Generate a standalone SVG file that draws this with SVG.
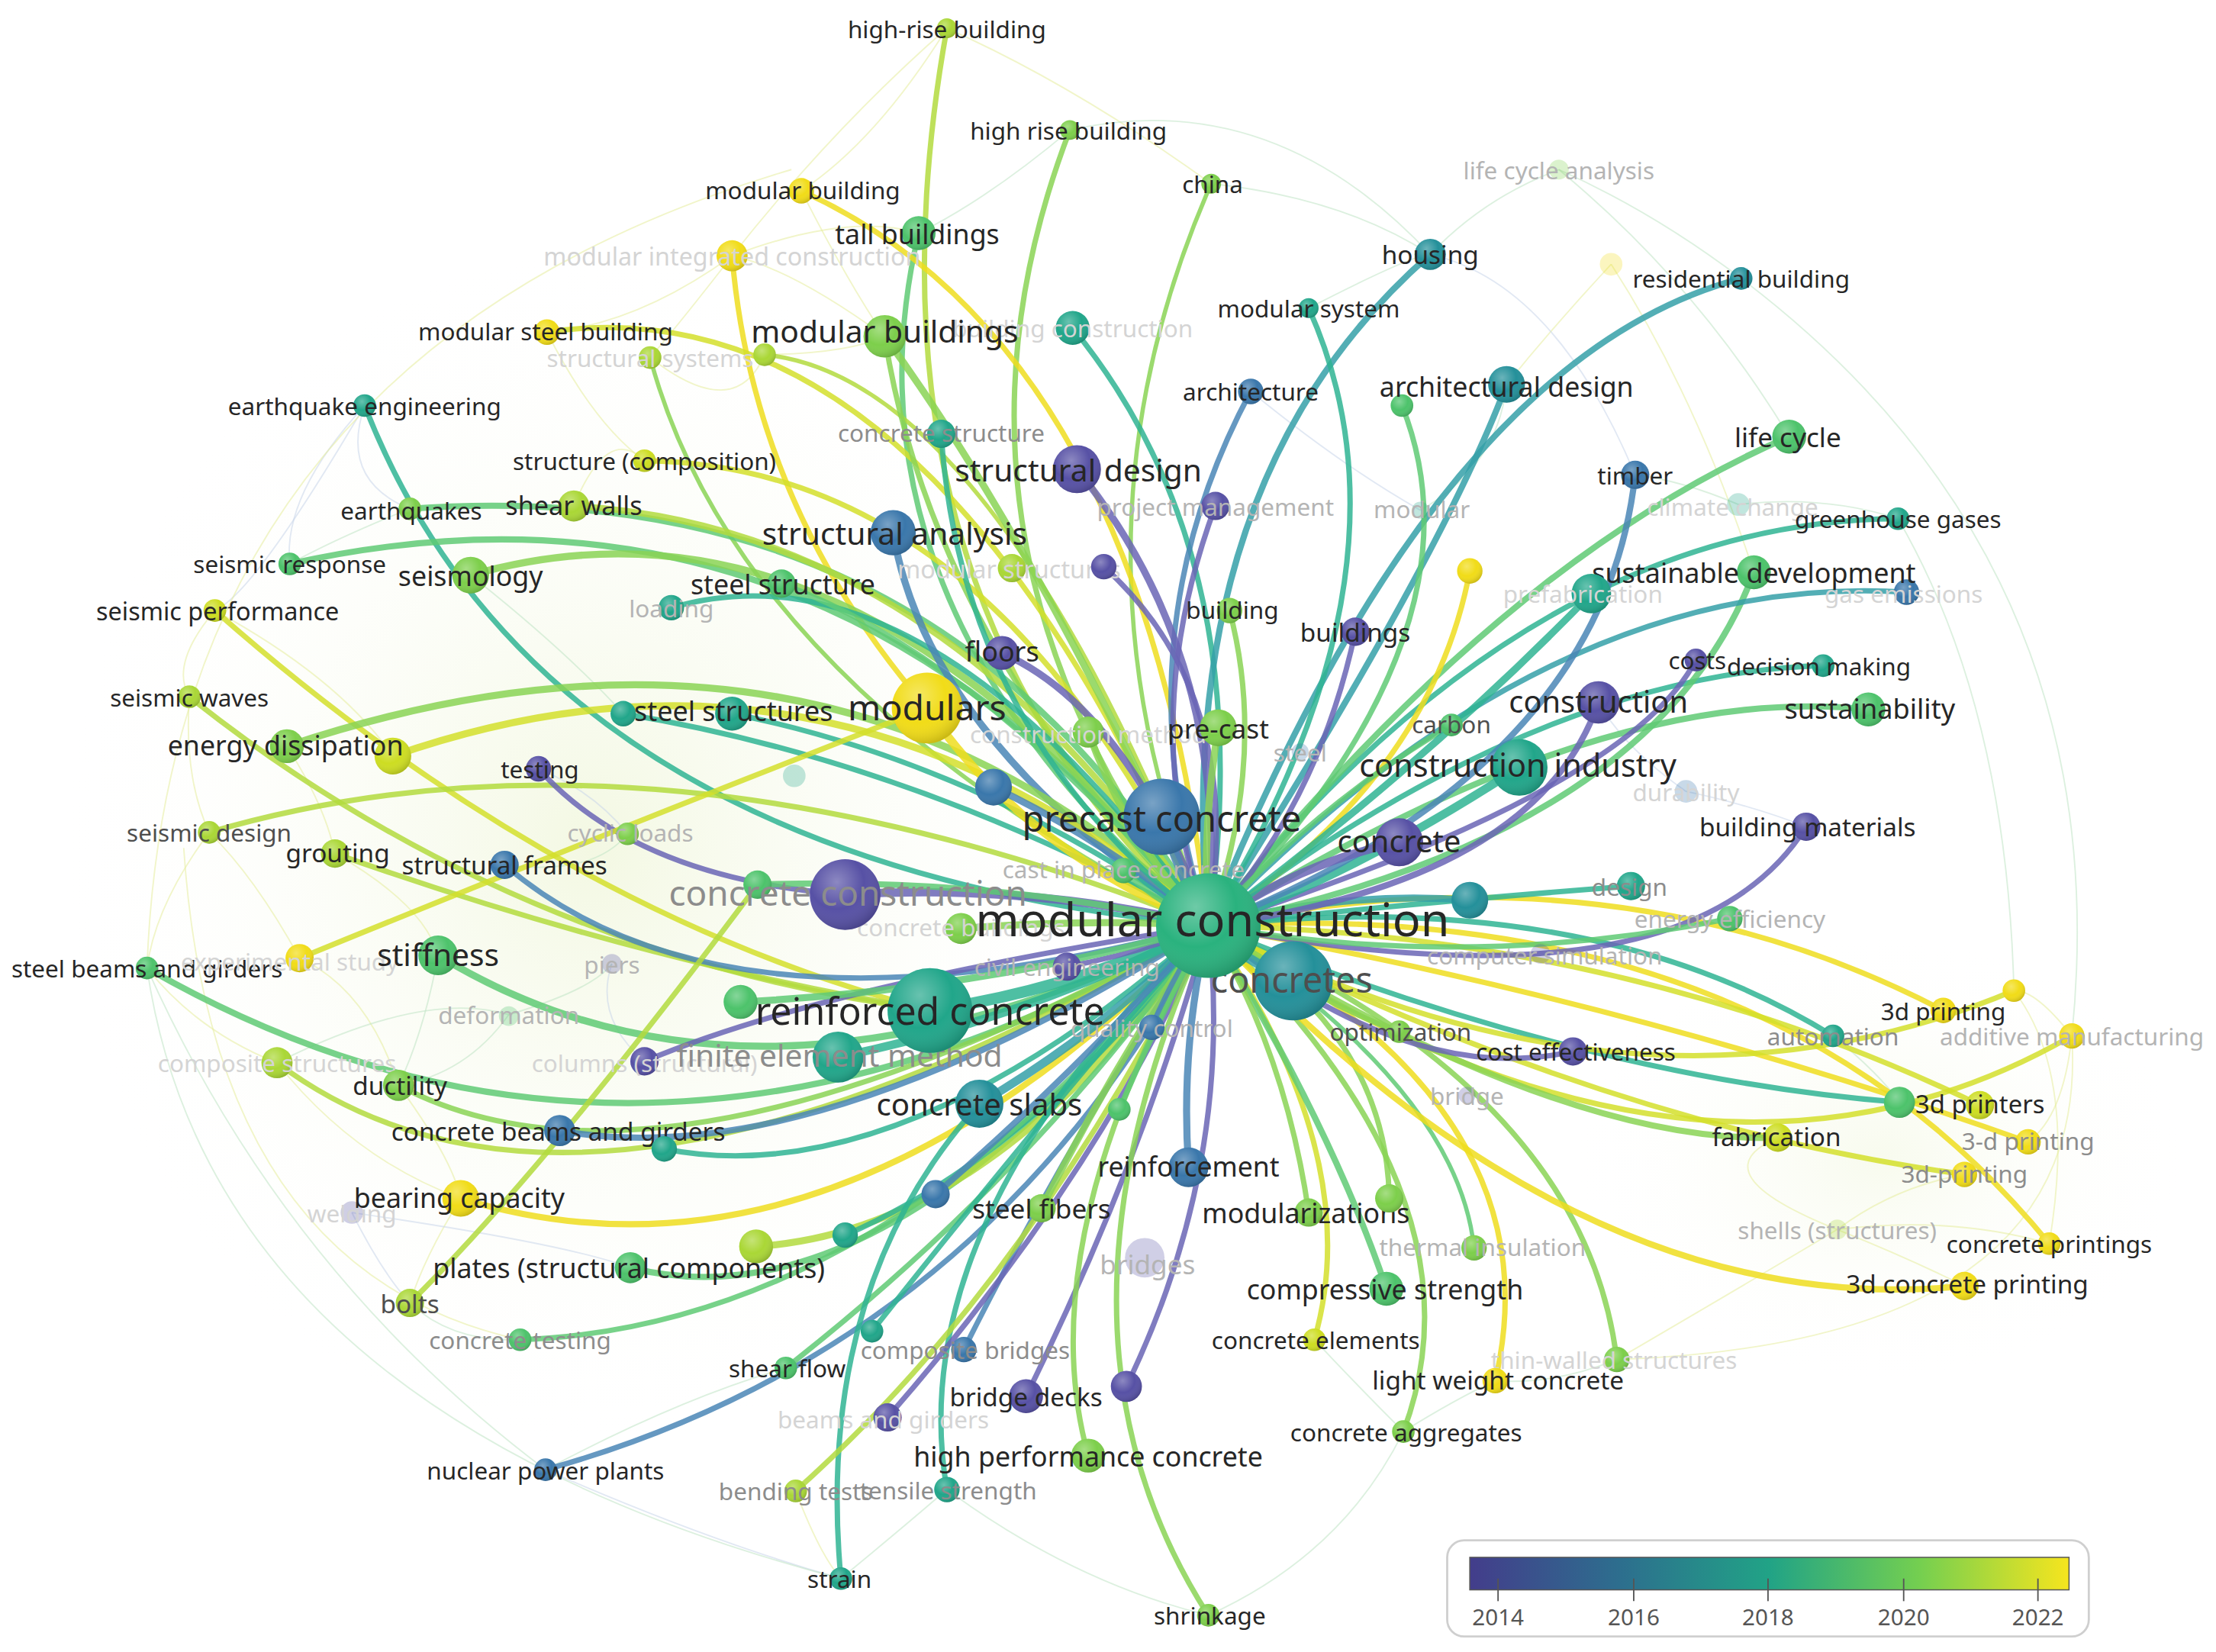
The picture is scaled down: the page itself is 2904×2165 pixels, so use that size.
<svg xmlns="http://www.w3.org/2000/svg" width="2904" height="2165" viewBox="0 0 2904 2165">
<defs>
<radialGradient id="sh" cx="0.38" cy="0.32" r="0.7">
<stop offset="0" stop-color="#ffffff" stop-opacity="0.32"/>
<stop offset="0.55" stop-color="#ffffff" stop-opacity="0"/>
<stop offset="1" stop-color="#000000" stop-opacity="0.16"/>
</radialGradient>
<linearGradient id="vir" x1="0" y1="0" x2="1" y2="0">
<stop offset="0" stop-color="#433d8b"/>
<stop offset="0.25" stop-color="#2d6e8e"/>
<stop offset="0.5" stop-color="#21a386"/>
<stop offset="0.75" stop-color="#74cf50"/>
<stop offset="1" stop-color="#f6e51e"/>
</linearGradient>
<radialGradient id="haze" cx="0.5" cy="0.5" r="0.5">
<stop offset="0" stop-color="#eef5d6" stop-opacity="0.7"/>
<stop offset="1" stop-color="#ffffff" stop-opacity="0"/>
</radialGradient>
<style>
.e{fill:none;stroke-linecap:round;stroke-opacity:0.85}
.fe{fill:none;stroke-width:1;stroke-opacity:0.55}
.fY{stroke:#e6ec9c}.fG{stroke:#bfe4c4}.fB{stroke:#c9d5ea}
.sP{stroke:#6a65b5}.sB{stroke:#4a86b6}.sTB{stroke:#35a0a8}.sT{stroke:#2fb493}.sG{stroke:#5fca74}.sLG{stroke:#8ad455}.sL{stroke:#b3db3e}.sYL{stroke:#d3df2b}.sY{stroke:#eedd1f}
.w2{stroke-width:3}.w3{stroke-width:3.8}.w35{stroke-width:4.4}.w4{stroke-width:5}.w5{stroke-width:6}.w6{stroke-width:7}.w7{stroke-width:8}
.cP{fill:#5751a5}.cB{fill:#3a77ab}.cTB{fill:#24909a}.cT{fill:#21a68a}.cG{fill:#4dc36b}.cLG{fill:#7dcf4b}.cL{fill:#aad736}.cYL{fill:#cddd22}.cY{fill:#f1dc18}.cH{fill:#2ab27e}
.fade{opacity:0.28}
.t{font-family:"Noto Sans","Open Sans","Liberation Sans",sans-serif;text-anchor:middle;dominant-baseline:central}
.k{fill:#262626}.d{fill:#4e4e4e}.m{fill:#8c8c8c}.f{fill:#b4b4b4}.v{fill:#d4d4d4}
</style>
</defs>
<rect x="0" y="0" width="2904" height="2165" fill="#ffffff"/>
<g transform="scale(1.852041)">
<ellipse cx="420" cy="600" rx="380" ry="430" fill="url(#haze)"/>
<ellipse cx="1330" cy="820" rx="220" ry="160" fill="url(#haze)" opacity="0.6"/>

<g id="connectors">
<g id="faint-links">
<path class="fe fY" d="M518 181 Q450 230 387 235"/>
<path class="fe fY" d="M518 181 Q600 150 650 165"/>
<path class="fe fY" d="M518 181 Q590 90 670 20"/>
<path class="fe fY" d="M518 181 Q480 230 460 253"/>
<path class="fe fY" d="M387 235 Q420 300 456 326"/>
<path class="fe fY" d="M460 253 Q520 300 541 251"/>
<path class="fe fY" d="M567 135 Q620 100 670 20"/>
<path class="fe fY" d="M567 135 Q600 200 626 238"/>
<path class="fe fY" d="M670 20 Q760 60 857 130"/>
<path class="fe fG" d="M757 92 Q700 140 650 165"/>
<path class="fe fB" d="M258 287 Q240 340 290 360"/>
<path class="fe fB" d="M258 287 Q200 350 205 399"/>
<path class="fe fB" d="M258 287 Q180 420 152 432"/>
<path class="fe fG" d="M290 360 Q240 380 205 399"/>
<path class="fe fY" d="M152 432 Q120 470 134 493"/>
<path class="fe fY" d="M134 493 Q130 550 148 589"/>
<path class="fe fY" d="M148 589 Q110 640 104 685"/>
<path class="fe fY" d="M104 685 Q140 730 196 752"/>
<path class="fe fY" d="M196 752 Q250 820 326 848"/>
<path class="fe fY" d="M326 848 Q300 890 290 922"/>
<path class="fe fG" d="M290 922 Q320 950 368 948"/>
<path class="fe fB" d="M249 858 Q270 900 290 922"/>
<path class="fe fY" d="M212 678 Q180 620 148 589"/>
<path class="fe fY" d="M212 678 Q260 700 282 768"/>
<path class="fe fY" d="M237 604 Q300 640 310 676"/>
<path class="fe fG" d="M310 676 Q300 730 282 768"/>
<path class="fe fY" d="M282 768 Q320 820 326 848"/>
<path class="fe fY" d="M152 432 Q240 480 278 535"/>
<path class="fe fY" d="M203 528 Q230 570 237 604"/>
<path class="fe fG" d="M333 407 Q400 460 441 505"/>
<path class="fe fY" d="M406 358 Q430 300 456 326"/>
<path class="fe fG" d="M104 685 Q200 900 386 1040"/>
<path class="fe fY" d="M130 600 Q150 900 368 948"/>
<path class="fe fB" d="M386 1040 Q500 1090 595 1117"/>
<path class="fe fG" d="M556 968 Q480 990 386 1040"/>
<path class="fe fY" d="M563 1055 Q580 1100 595 1117"/>
<path class="fe fG" d="M595 1117 Q640 1080 670 1054"/>
<path class="fe fG" d="M670 1054 Q760 1120 855 1143"/>
<path class="fe fG" d="M1103 120 Q1050 140 1012 180"/>
<path class="fe fG" d="M1103 120 Q1170 150 1232 197"/>
<path class="fe fG" d="M1103 120 Q1200 200 1266 309"/>
<path class="fe fY" d="M1140 187 Q1200 280 1241 405"/>
<path class="fe fY" d="M1140 187 Q1100 230 1066 272"/>
<path class="fe fG" d="M1230 357 Q1290 350 1343 367"/>
<path class="fe fG" d="M1230 357 Q1190 340 1157 336"/>
<path class="fe fB" d="M1012 180 Q1100 200 1157 336"/>
<path class="fe fG" d="M926 218 Q1000 180 1012 180"/>
<path class="fe fY" d="M1466 733 Q1440 700 1425 701"/>
<path class="fe fY" d="M1466 733 Q1460 790 1435 808"/>
<path class="fe fY" d="M1300 870 Q1350 890 1390 910"/>
<path class="fe fY" d="M1300 870 Q1380 860 1450 880"/>
<path class="fe fY" d="M1300 870 Q1340 840 1390 831"/>
<path class="fe fG" d="M1144 962 Q1100 980 1058 977"/>
<path class="fe fY" d="M1144 962 Q1250 900 1300 870"/>
<path class="fe fG" d="M1297 733 Q1330 760 1344 780"/>
<path class="fe fY" d="M1425 701 Q1470 760 1450 880"/>
<path class="fe fG" d="M855 1143 Q950 1100 993 1013"/>
<path class="fe fG" d="M993 1013 Q1030 990 1058 977"/>
<path class="fe fG" d="M930 948 Q960 980 993 1013"/>
<path class="fe fB" d="M1193 560 Q1240 570 1278 585"/>
<path class="fe fB" d="M1193 560 Q1150 530 1131 497"/>
<path class="fe fG" d="M1005 361 Q1060 330 1066 272"/>
<path class="fe fB" d="M1005 361 Q950 330 885 277"/>
<path class="fe fY" d="M560 120 Q120 250 104 685"/>
<path class="fe fG" d="M104 685 Q150 1000 595 1117"/>
<path class="fe fG" d="M1232 197 Q1500 400 1466 733"/>
<path class="fe fG" d="M1343 367 Q1420 500 1425 701"/>
<path class="fe fY" d="M1466 733 Q1480 950 1144 962"/>
<path class="fe fG" d="M757 92 Q900 60 1012 180"/>
<path class="fe fG" d="M857 130 Q950 140 1012 180"/>
<path class="fe fY" d="M626 238 Q560 190 518 181"/>
<path class="fe fY" d="M541 251 Q600 250 626 238"/>
<path class="fe fB" d="M433 682 Q420 720 456 751"/>
<path class="fe fG" d="M360 718 Q420 700 433 682"/>
<path class="fe fG" d="M360 718 Q330 760 282 768"/>
<path class="fe fG" d="M444 590 Q420 620 357 612"/>
<path class="fe fB" d="M381 544 Q420 560 444 590"/>
<path class="fe fB" d="M249 858 Q400 880 446 897"/>
<path class="fe fG" d="M196 752 Q300 700 360 718"/>
<path class="fe fY" d="M1300 870 Q1200 830 1258 805"/>
</g>
<g id="links">
<path class="e sL w3" d="M670 20 Q597.5 422.5 855 655"/>
<path class="e sLG w3" d="M757 92 Q644 386.5 855 655"/>
<path class="e sLG w2" d="M857 130 Q744 387.5 855 655"/>
<path class="e sG w3" d="M650 165 Q587.5 430 855 655"/>
<path class="e sY w3" d="M567 135 Q809 245 855 655"/>
<path class="e sY w3" d="M518 181 Q533 359 656 501"/>
<path class="e sYL w3" d="M387 235 Q659 195 855 655"/>
<path class="e sLG w2" d="M460 253 Q522.5 486 855 655"/>
<path class="e sL w2" d="M541 251 Q702 267 855 655"/>
<path class="e sLG w4" d="M626 238 Q739.5 393.5 855 655"/>
<path class="e sLG w3" d="M626 238 Q659.5 453.5 855 655"/>
<path class="e sT w3" d="M759 232 Q893 396.5 855 655"/>
<path class="e sT w3" d="M258 287 Q383.5 609 855 655"/>
<path class="e sYL w3" d="M456 326 Q704.5 329.5 855 655"/>
<path class="e sG w35" d="M290 360 Q667.5 332.5 855 655"/>
<path class="e sL w35" d="M406 358 Q669.5 373.5 855 655"/>
<path class="e sG w35" d="M205 399 Q590 313 855 655"/>
<path class="e sLG w4" d="M333 407 Q606 329 855 655"/>
<path class="e sYL w3" d="M152 432 Q395 646.5 658 715"/>
<path class="e sT w3" d="M475 430 Q655 377.5 855 655"/>
<path class="e sG w3" d="M553 413 Q696 466 855 655"/>
<path class="e sB w4" d="M632 377 Q656.5 524 855 655"/>
<path class="e sL w3" d="M134 493 Q364 676 658 715"/>
<path class="e sLG w4" d="M203 528 Q591 398.5 855 655"/>
<path class="e sYL w4" d="M278 535 Q593.5 425 855 655"/>
<path class="e sL w3" d="M148 589 Q458.5 498 855 655"/>
<path class="e sT w3" d="M441 505 Q652 540 855 655"/>
<path class="e sT w3" d="M518 505 Q693.5 540 855 655"/>
<path class="e sP w3" d="M381 544 Q450.5 621.5 598 633"/>
<path class="e sL w3" d="M237 604 Q452.5 680.5 658 715"/>
<path class="e sYL w3" d="M212 678 Q426 590.5 656 501"/>
<path class="e sB w3" d="M357 612 Q514 746.5 855 655"/>
<path class="e sG w4" d="M310 676 Q537.5 814.5 855 655"/>
<path class="e sG w35" d="M104 685 Q460.5 890 855 655"/>
<path class="e sL w3" d="M196 752 Q414.5 916.5 855 655"/>
<path class="e sLG w3" d="M282 768 Q471.5 868.5 855 655"/>
<path class="e sB w35" d="M396 800 Q574.5 832.5 855 655"/>
<path class="e sT w3" d="M470 813 Q637.5 846 855 655"/>
<path class="e sY w35" d="M326 848 Q589.5 928.5 855 655"/>
<path class="e sL w3" d="M290 922 Q387 826 536 626"/>
<path class="e sG w35" d="M446 897 Q629.5 944 855 655"/>
<path class="e sL w4" d="M535 882 Q705 871.5 855 655"/>
<path class="e sT w3" d="M598 874 Q733.5 815.5 855 655"/>
<path class="e sG w3" d="M368 948 Q628.5 938.5 855 655"/>
<path class="e sB w3" d="M386 1040 Q699.5 952.5 855 655"/>
<path class="e sG w3" d="M556 968 Q734.5 828.5 855 655"/>
<path class="e sB w3" d="M682 955 Q751.5 815 855 655"/>
<path class="e sT w3" d="M595 1117 Q576 911 693 781"/>
<path class="e sT w3" d="M617 942 Q744 781.5 855 655"/>
<path class="e sT w3" d="M670 1054 Q637.5 865.5 855 655"/>
<path class="e sL w3" d="M563 1055 Q731 905 855 655"/>
<path class="e sP w3" d="M628 1003 Q778.5 831 855 655"/>
<path class="e sP w3" d="M726 988 Q809.5 818.5 855 655"/>
<path class="e sP w3" d="M797 981 Q874 822 855 655"/>
<path class="e sLG w3" d="M770 1030 Q727.5 877.5 855 655"/>
<path class="e sLG w3" d="M855 1143 Q725 941 855 655"/>
<path class="e sYL w3" d="M930 948 Q967.5 818.5 855 655"/>
<path class="e sG w35" d="M981 912 Q942 796.5 855 655"/>
<path class="e sLG w3" d="M926 858 Q909.5 743.5 855 655"/>
<path class="e sLG w3" d="M983 848 Q981 728.5 855 655"/>
<path class="e sY w3" d="M1058 977 Q1103.5 784 855 655"/>
<path class="e sLG w3" d="M993 1013 Q1056 846 855 655"/>
<path class="e sLG w3" d="M1144 962 Q1120.5 771.5 855 655"/>
<path class="e sG w2" d="M1043 883 Q1031 771 855 655"/>
<path class="e sY w35" d="M1390 910 Q1117.5 937.5 855 655"/>
<path class="e sY w3" d="M1450 880 Q1247.5 632.5 855 655"/>
<path class="e sY w3" d="M1435 808 Q1155 708.5 855 655"/>
<path class="e sYL w3" d="M1390 831 Q1137.5 797 855 655"/>
<path class="e sT w3" d="M1344 780 Q1120.5 762.5 855 655"/>
<path class="e sYL w3" d="M1401 782 Q1152 661.5 855 655"/>
<path class="e sT w3" d="M1297 733 Q1124 626 855 655"/>
<path class="e sY w3" d="M1375 715 Q1145 595 855 655"/>
<path class="e sYL w3" d="M1425 701 Q1160 812 855 655"/>
<path class="e sYL w3" d="M1466 733 Q1199.5 886 855 655"/>
<path class="e sLG w35" d="M1258 805 Q1103.5 810 855 655"/>
<path class="e sP w3" d="M1113 744 Q996 770.5 855 655"/>
<path class="e sLG w3" d="M990 730 Q927.5 707.5 855 655"/>
<path class="e sP w3" d="M1278 585 Q1193.5 720 855 655"/>
<path class="e sT w3" d="M1154 627 Q995.5 639 855 655"/>
<path class="e sG w3" d="M1224 650 Q1040.5 687.5 855 655"/>
<path class="e sTB w4" d="M1040 637 Q950 630 855 655"/>
<path class="e sG w35" d="M1322 502 Q1131.5 481.5 855 655"/>
<path class="e sT w3" d="M1290 471 Q1087.5 477 855 655"/>
<path class="e sP w3" d="M1200 467 Q1152.5 559 855 655"/>
<path class="e sG w35" d="M1241 405 Q1172 590 855 655"/>
<path class="e sP w35" d="M1131 497 Q1087 624 855 655"/>
<path class="e sT w5" d="M1075 543 Q955 621 855 655"/>
<path class="e sTB w3" d="M1349 419 Q1098 403 855 655"/>
<path class="e sT w3" d="M1343 367 Q1081 369 855 655"/>
<path class="e sG w35" d="M1266 309 Q1059.5 398 855 655"/>
<path class="e sB w35" d="M1157 336 Q1134 544.5 855 655"/>
<path class="e sTB w35" d="M1232 197 Q1016.5 254 855 655"/>
<path class="e sTB w35" d="M1066 272 Q1019.5 396.5 855 655"/>
<path class="e sTB w35" d="M1012 180 Q826.5 342.5 855 655"/>
<path class="e sT w3" d="M926 218 Q1009.5 403.5 855 655"/>
<path class="e sB w3" d="M885 277 Q790 454 855 655"/>
<path class="e sG w3" d="M992 287 Q1056.5 449 855 655"/>
<path class="e sY w3" d="M1040 404 Q1012.5 550.5 855 655"/>
<path class="e sP w3" d="M959 447 Q933 569 855 655"/>
<path class="e sLG w3" d="M870 432 Q897.5 536.5 855 655"/>
<path class="e sP w3" d="M860 358 Q802.5 513.5 855 655"/>
<path class="e sP w3" d="M781 401 Q882 492 855 655"/>
<path class="e sP w4" d="M762 332 Q871.5 466.5 855 655"/>
<path class="e sP w4" d="M709 462 Q798 501.5 855 655"/>
<path class="e sY w5" d="M656 501 Q724.5 602 855 655"/>
<path class="e sB w4" d="M703 557 Q781 594 855 655"/>
<path class="e sT w3" d="M666 307 Q679.5 519 855 655"/>
<path class="e sP w3" d="M456 751 Q584.5 697 855 655"/>
<path class="e sB w6" d="M822 578 Q835 620 855 655"/>
<path class="e sP w5" d="M990 596 Q920 610 855 655"/>
<path class="e sLG w4" d="M862 515 Q850 590 855 655"/>
<path class="e sTB w6" d="M915 694 Q880 680 855 655"/>
<path class="e sT w7" d="M658 715 Q760 700 855 655"/>
<path class="e sP w5" d="M598 633 Q730 625 855 655"/>
<path class="e sT w5" d="M593 748 Q730 720 855 655"/>
<path class="e sTB w5" d="M693 781 Q780 730 855 655"/>
<path class="e sB w4" d="M841 826 Q835 740 855 655"/>
<path class="e sLG w4" d="M737 855 Q790 750 855 655"/>
<path class="e sG w3" d="M795 616 Q820 640 855 655"/>
<path class="e sP w3" d="M755 684 Q805 675 855 655"/>
<path class="e sB w3" d="M815 727 Q830 690 855 655"/>
<path class="e sG w3" d="M792 785 Q820 720 855 655"/>
<path class="e sLG w4" d="M680 657 Q770 650 855 655"/>
<path class="e sG w35" d="M536 626 Q700 620 855 655"/>
<path class="e sG w4" d="M524 709 Q700 700 855 655"/>
<path class="e sG w3" d="M1027 513 Q930 570 855 655"/>
<path class="e sLG w4" d="M770 518 Q800 600 855 655"/>
<path class="e sB w35" d="M662 845 Q760 760 855 655"/>
<path class="e sT w4" d="M1126 420 Q1010 540 855 655"/>
</g>
</g>

<g id="nodes">
<g id="n-life-cycle-analysis"><circle cx="1103" cy="120" r="7" class="cLG fade"/><text class="t f" x="1103" y="120" font-size="17">life cycle analysis</text></g>
<g id="n-unlabeled-yellow-1140"><circle cx="1140" cy="187" r="8" class="cY fade"/></g>
<g id="n-modular"><circle cx="1005" cy="361" r="6" class="cT fade"/><text class="t f" x="1006" y="360" font-size="17">modular</text></g>
<g id="n-climate-change"><circle cx="1230" cy="357" r="8" class="cT fade"/><text class="t v" x="1226" y="358" font-size="17">climate change</text></g>
<g id="n-steel"><circle cx="920" cy="532" r="6" class="cB fade"/><text class="t f" x="920" y="532" font-size="17">steel</text></g>
<g id="n-durability"><circle cx="1193" cy="560" r="8" class="cB fade"/><text class="t v" x="1193" y="560" font-size="17">durability</text></g>
<g id="n-computer-simulation"><circle cx="1090" cy="675" r="7" class="cP fade"/><text class="t f" x="1093" y="676" font-size="17">computer simulation</text></g>
<g id="n-bridge"><circle cx="1038" cy="775" r="6" class="cP fade"/><text class="t f" x="1038" y="775" font-size="17">bridge</text></g>
<g id="n-shells-structures"><circle cx="1300" cy="870" r="7" class="cL fade"/><text class="t f" x="1300" y="870" font-size="17">shells (structures)</text></g>
<g id="n-piers"><circle cx="433" cy="682" r="7" class="cP fade"/><text class="t f" x="433" y="682" font-size="17">piers</text></g>
<g id="n-deformation"><circle cx="360" cy="719" r="7" class="cG fade"/><text class="t f" x="360" y="718" font-size="17">deformation</text></g>
<g id="n-welding"><circle cx="249" cy="858" r="8" class="cP fade"/><text class="t v" x="249" y="858" font-size="17">welding</text></g>
<g id="n-bridges"><circle cx="810" cy="890" r="14" class="cP fade"/><text class="t f" x="812" y="894" font-size="19">bridges</text></g>
<g id="n-unlabeled-faint-562"><circle cx="562" cy="549" r="8" class="cT fade"/></g>

<g id="n-unlabeled-ylime-278"><circle cx="278" cy="535" r="13" class="cYL"/><circle cx="278" cy="535" r="13" fill="url(#sh)"/></g>
<g id="n-high-rise-building"><circle cx="670" cy="20" r="7" class="cL"/><circle cx="670" cy="20" r="7" fill="url(#sh)"/><text class="t k" x="670" y="20" font-size="17">high-rise building</text></g>
<g id="n-high-rise-building-2"><circle cx="757" cy="92" r="7" class="cLG"/><circle cx="757" cy="92" r="7" fill="url(#sh)"/><text class="t k" x="756" y="92" font-size="17">high rise building</text></g>
<g id="n-china"><circle cx="857" cy="130" r="7" class="cLG"/><circle cx="857" cy="130" r="7" fill="url(#sh)"/><text class="t k" x="858" y="130" font-size="17">china</text></g>
<g id="n-modular-building"><circle cx="567" cy="135" r="9" class="cY"/><circle cx="567" cy="135" r="9" fill="url(#sh)"/><text class="t k" x="568" y="134" font-size="17">modular building</text></g>
<g id="n-modular-integrated-construction"><circle cx="518" cy="181" r="11" class="cY"/><circle cx="518" cy="181" r="11" fill="url(#sh)"/><text class="t v" x="518" y="181" font-size="17.4">modular integrated construction</text></g>
<g id="n-residential-building"><circle cx="1232" cy="197" r="8" class="cTB"/><circle cx="1232" cy="197" r="8" fill="url(#sh)"/><text class="t k" x="1232" y="197" font-size="17">residential building</text></g>
<g id="n-modular-system"><circle cx="926" cy="218" r="7" class="cT"/><circle cx="926" cy="218" r="7" fill="url(#sh)"/><text class="t k" x="926" y="218" font-size="17">modular system</text></g>
<g id="n-modular-steel-building"><circle cx="387" cy="235" r="9" class="cY"/><circle cx="387" cy="235" r="9" fill="url(#sh)"/><text class="t k" x="386" y="234" font-size="17">modular steel building</text></g>
<g id="n-structural-systems"><circle cx="460" cy="253" r="8" class="cL"/><circle cx="460" cy="253" r="8" fill="url(#sh)"/><text class="t v" x="460" y="253" font-size="17">structural systems</text></g>
<g id="n-unlabeled-lime-541"><circle cx="541" cy="251" r="8" class="cL"/><circle cx="541" cy="251" r="8" fill="url(#sh)"/></g>
<g id="n-earthquake-engineering"><circle cx="258" cy="287" r="8" class="cT"/><circle cx="258" cy="287" r="8" fill="url(#sh)"/><text class="t k" x="258" y="287" font-size="17">earthquake engineering</text></g>
<g id="n-architecture"><circle cx="885" cy="277" r="9" class="cB"/><circle cx="885" cy="277" r="9" fill="url(#sh)"/><text class="t k" x="885" y="277" font-size="17">architecture</text></g>
<g id="n-unlabeled-green-992"><circle cx="992" cy="287" r="8" class="cG"/><circle cx="992" cy="287" r="8" fill="url(#sh)"/></g>
<g id="n-concrete-structure"><circle cx="666" cy="307" r="10" class="cT"/><circle cx="666" cy="307" r="10" fill="url(#sh)"/><text class="t m" x="666" y="306" font-size="17">concrete structure</text></g>
<g id="n-structure-composition"><circle cx="456" cy="326" r="8" class="cYL"/><circle cx="456" cy="326" r="8" fill="url(#sh)"/><text class="t k" x="456" y="326" font-size="17">structure (composition)</text></g>
<g id="n-timber"><circle cx="1157" cy="336" r="10" class="cB"/><circle cx="1157" cy="336" r="10" fill="url(#sh)"/><text class="t k" x="1157" y="336" font-size="17">timber</text></g>
<g id="n-project-management"><circle cx="860" cy="358" r="10" class="cP"/><circle cx="860" cy="358" r="10" fill="url(#sh)"/><text class="t f" x="860" y="358" font-size="17">project management</text></g>
<g id="n-greenhouse-gases"><circle cx="1343" cy="367" r="8" class="cT"/><circle cx="1343" cy="367" r="8" fill="url(#sh)"/><text class="t k" x="1343" y="367" font-size="17">greenhouse gases</text></g>
<g id="n-earthquakes"><circle cx="290" cy="360" r="8" class="cLG"/><circle cx="290" cy="360" r="8" fill="url(#sh)"/><text class="t k" x="291" y="361" font-size="17">earthquakes</text></g>
<g id="n-seismic-response"><circle cx="205" cy="399" r="8" class="cG"/><circle cx="205" cy="399" r="8" fill="url(#sh)"/><text class="t k" x="205" y="399" font-size="17">seismic response</text></g>
<g id="n-modular-structures"><circle cx="716" cy="402" r="10" class="cL"/><circle cx="716" cy="402" r="10" fill="url(#sh)"/><text class="t v" x="714" y="402" font-size="17.5">modular structures</text></g>
<g id="n-unlabeled-purple-781"><circle cx="781" cy="401" r="9" class="cP"/><circle cx="781" cy="401" r="9" fill="url(#sh)"/></g>
<g id="n-unlabeled-yellow-1040"><circle cx="1040" cy="404" r="9" class="cY"/><circle cx="1040" cy="404" r="9" fill="url(#sh)"/></g>
<g id="n-gas-emissions"><circle cx="1349" cy="419" r="9" class="cB"/><circle cx="1349" cy="419" r="9" fill="url(#sh)"/><text class="t v" x="1347" y="420" font-size="17">gas emissions</text></g>
<g id="n-seismic-performance"><circle cx="152" cy="432" r="8" class="cYL"/><circle cx="152" cy="432" r="8" fill="url(#sh)"/><text class="t k" x="154" y="432" font-size="17.5">seismic performance</text></g>
<g id="n-loading"><circle cx="475" cy="430" r="9" class="cT"/><circle cx="475" cy="430" r="9" fill="url(#sh)"/><text class="t f" x="475" y="430" font-size="17">loading</text></g>
<g id="n-building"><circle cx="870" cy="432" r="9" class="cLG"/><circle cx="870" cy="432" r="9" fill="url(#sh)"/><text class="t k" x="872" y="431" font-size="17">building</text></g>
<g id="n-buildings"><circle cx="959" cy="447" r="10" class="cP"/><circle cx="959" cy="447" r="10" fill="url(#sh)"/><text class="t k" x="959" y="447" font-size="18">buildings</text></g>
<g id="n-costs"><circle cx="1200" cy="467" r="8" class="cP"/><circle cx="1200" cy="467" r="8" fill="url(#sh)"/><text class="t k" x="1201" y="467" font-size="17">costs</text></g>
<g id="n-decision-making"><circle cx="1290" cy="471" r="8" class="cT"/><circle cx="1290" cy="471" r="8" fill="url(#sh)"/><text class="t k" x="1287" y="471" font-size="17">decision making</text></g>
<g id="n-seismic-waves"><circle cx="134" cy="493" r="8" class="cL"/><circle cx="134" cy="493" r="8" fill="url(#sh)"/><text class="t k" x="134" y="493" font-size="17">seismic waves</text></g>
<g id="n-unlabeled-teal-441"><circle cx="441" cy="505" r="9" class="cT"/><circle cx="441" cy="505" r="9" fill="url(#sh)"/></g>
<g id="n-carbon"><circle cx="1027" cy="513" r="8" class="cG"/><circle cx="1027" cy="513" r="8" fill="url(#sh)"/><text class="t d" x="1027" y="512" font-size="17">carbon</text></g>
<g id="n-testing"><circle cx="381" cy="544" r="9" class="cP"/><circle cx="381" cy="544" r="9" fill="url(#sh)"/><text class="t k" x="382" y="544" font-size="17">testing</text></g>
<g id="n-seismic-design"><circle cx="148" cy="589" r="8" class="cL"/><circle cx="148" cy="589" r="8" fill="url(#sh)"/><text class="t d" x="148" y="589" font-size="17">seismic design</text></g>
<g id="n-cyclic-loads"><circle cx="444" cy="590" r="8" class="cLG"/><circle cx="444" cy="590" r="8" fill="url(#sh)"/><text class="t f" x="446" y="589" font-size="17">cyclic loads</text></g>
<g id="n-grouting"><circle cx="237" cy="604" r="10" class="cL"/><circle cx="237" cy="604" r="10" fill="url(#sh)"/><text class="t k" x="239" y="603" font-size="18">grouting</text></g>
<g id="n-structural-frames"><circle cx="357" cy="612" r="10" class="cB"/><circle cx="357" cy="612" r="10" fill="url(#sh)"/><text class="t k" x="357" y="612" font-size="18">structural frames</text></g>
<g id="n-building-materials"><circle cx="1278" cy="585" r="10" class="cP"/><circle cx="1278" cy="585" r="10" fill="url(#sh)"/><text class="t k" x="1279" y="585" font-size="18">building materials</text></g>
<g id="n-cast-in-place-concrete"><circle cx="795" cy="616" r="9" class="cG"/><circle cx="795" cy="616" r="9" fill="url(#sh)"/><text class="t f" x="795" y="615" font-size="17">cast in place concrete</text></g>
<g id="n-unlabeled-green-536"><circle cx="536" cy="626" r="10" class="cG"/><circle cx="536" cy="626" r="10" fill="url(#sh)"/></g>
<g id="n-design"><circle cx="1154" cy="627" r="10" class="cT"/><circle cx="1154" cy="627" r="10" fill="url(#sh)"/><text class="t m" x="1153" y="627" font-size="17">design</text></g>
<g id="n-energy-efficiency"><circle cx="1224" cy="650" r="9" class="cG"/><circle cx="1224" cy="650" r="9" fill="url(#sh)"/><text class="t f" x="1224" y="650" font-size="17">energy efficiency</text></g>
<g id="n-steel-beams-and-girders"><circle cx="104" cy="685" r="8" class="cG"/><circle cx="104" cy="685" r="8" fill="url(#sh)"/><text class="t k" x="104" y="685" font-size="17">steel beams and girders</text></g>
<g id="n-experimental-study"><circle cx="212" cy="678" r="10" class="cY"/><circle cx="212" cy="678" r="10" fill="url(#sh)"/><text class="t v" x="205" y="680" font-size="17">experimental study</text></g>
<g id="n-civil-engineering"><circle cx="755" cy="684" r="10" class="cP"/><circle cx="755" cy="684" r="10" fill="url(#sh)"/><text class="t f" x="755" y="684" font-size="17">civil engineering</text></g>
<g id="n-composite-structures"><circle cx="196" cy="752" r="11" class="cL"/><circle cx="196" cy="752" r="11" fill="url(#sh)"/><text class="t v" x="196" y="752" font-size="17">composite structures</text></g>
<g id="n-columns-structural"><circle cx="456" cy="751" r="10" class="cP"/><circle cx="456" cy="751" r="10" fill="url(#sh)"/><text class="t v" x="456" y="752" font-size="17">columns (structural)</text></g>
<g id="n-quality-control"><circle cx="815" cy="727" r="9" class="cB"/><circle cx="815" cy="727" r="9" fill="url(#sh)"/><text class="t f" x="815" y="727" font-size="17">quality control</text></g>
<g id="n-optimization"><circle cx="990" cy="730" r="8" class="cLG"/><circle cx="990" cy="730" r="8" fill="url(#sh)"/><text class="t d" x="991" y="730" font-size="17">optimization</text></g>
<g id="n-cost-effectiveness"><circle cx="1113" cy="744" r="10" class="cP"/><circle cx="1113" cy="744" r="10" fill="url(#sh)"/><text class="t k" x="1115" y="744" font-size="17">cost effectiveness</text></g>
<g id="n-automation"><circle cx="1297" cy="733" r="8" class="cT"/><circle cx="1297" cy="733" r="8" fill="url(#sh)"/><text class="t m" x="1297" y="733" font-size="17">automation</text></g>
<g id="n-3d-printing"><circle cx="1375" cy="715" r="9" class="cY"/><circle cx="1375" cy="715" r="9" fill="url(#sh)"/><text class="t k" x="1375" y="715" font-size="17">3d printing</text></g>
<g id="n-unlabeled-yellow-1425"><circle cx="1425" cy="701" r="8" class="cY"/><circle cx="1425" cy="701" r="8" fill="url(#sh)"/></g>
<g id="n-additive-manufacturing"><circle cx="1466" cy="733" r="9" class="cY"/><circle cx="1466" cy="733" r="9" fill="url(#sh)"/><text class="t f" x="1466" y="733" font-size="17">additive manufacturing</text></g>
<g id="n-ductility"><circle cx="282" cy="768" r="11" class="cLG"/><circle cx="282" cy="768" r="11" fill="url(#sh)"/><text class="t k" x="283" y="768" font-size="18">ductility</text></g>
<g id="n-concrete-beams-and-girders"><circle cx="396" cy="800" r="11" class="cB"/><circle cx="396" cy="800" r="11" fill="url(#sh)"/><text class="t k" x="395" y="800" font-size="18">concrete beams and girders</text></g>
<g id="n-unlabeled-teal-470"><circle cx="470" cy="813" r="9" class="cT"/><circle cx="470" cy="813" r="9" fill="url(#sh)"/></g>
<g id="n-unlabeled-green-792"><circle cx="792" cy="785" r="8" class="cG"/><circle cx="792" cy="785" r="8" fill="url(#sh)"/></g>
<g id="n-fabrication"><circle cx="1258" cy="805" r="10" class="cYL"/><circle cx="1258" cy="805" r="10" fill="url(#sh)"/><text class="t k" x="1257" y="804" font-size="18">fabrication</text></g>
<g id="n-unlabeled-green-1344"><circle cx="1344" cy="780" r="11" class="cG"/><circle cx="1344" cy="780" r="11" fill="url(#sh)"/></g>
<g id="n-3d-printers"><circle cx="1401" cy="782" r="10" class="cYL"/><circle cx="1401" cy="782" r="10" fill="url(#sh)"/><text class="t k" x="1401" y="781" font-size="17.7">3d printers</text></g>
<g id="n-3-d-printing"><circle cx="1435" cy="808" r="9" class="cY"/><circle cx="1435" cy="808" r="9" fill="url(#sh)"/><text class="t m" x="1435" y="807" font-size="17">3-d printing</text></g>
<g id="n-3d-printing-hyphen"><circle cx="1390" cy="831" r="9" class="cY"/><circle cx="1390" cy="831" r="9" fill="url(#sh)"/><text class="t m" x="1390" y="830" font-size="17">3d-printing</text></g>
<g id="n-concrete-printings"><circle cx="1450" cy="880" r="8" class="cY"/><circle cx="1450" cy="880" r="8" fill="url(#sh)"/><text class="t k" x="1450" y="880" font-size="17">concrete printings</text></g>
<g id="n-3d-concrete-printing"><circle cx="1390" cy="910" r="10" class="cY"/><circle cx="1390" cy="910" r="10" fill="url(#sh)"/><text class="t k" x="1392" y="908" font-size="18">3d concrete printing</text></g>
<g id="n-unlabeled-blue-662"><circle cx="662" cy="845" r="10" class="cB"/><circle cx="662" cy="845" r="10" fill="url(#sh)"/></g>
<g id="n-steel-fibers"><circle cx="737" cy="855" r="10" class="cLG"/><circle cx="737" cy="855" r="10" fill="url(#sh)"/><text class="t k" x="737" y="855" font-size="19">steel fibers</text></g>
<g id="n-modularizations"><circle cx="926" cy="858" r="10" class="cLG"/><circle cx="926" cy="858" r="10" fill="url(#sh)"/><text class="t k" x="924" y="858" font-size="19.3">modularizations</text></g>
<g id="n-unlabeled-green-983"><circle cx="983" cy="848" r="10" class="cLG"/><circle cx="983" cy="848" r="10" fill="url(#sh)"/></g>
<g id="n-unlabeled-lime-535"><circle cx="535" cy="882" r="12" class="cL"/><circle cx="535" cy="882" r="12" fill="url(#sh)"/></g>
<g id="n-unlabeled-teal-598"><circle cx="598" cy="874" r="9" class="cT"/><circle cx="598" cy="874" r="9" fill="url(#sh)"/></g>
<g id="n-plates-structural-components"><circle cx="446" cy="897" r="11" class="cG"/><circle cx="446" cy="897" r="11" fill="url(#sh)"/><text class="t k" x="445" y="897" font-size="19.3">plates (structural components)</text></g>
<g id="n-thermal-insulation"><circle cx="1043" cy="883" r="9" class="cLG"/><circle cx="1043" cy="883" r="9" fill="url(#sh)"/><text class="t f" x="1049" y="882" font-size="17">thermal insulation</text></g>
<g id="n-bolts"><circle cx="290" cy="922" r="10" class="cL"/><circle cx="290" cy="922" r="10" fill="url(#sh)"/><text class="t d" x="290" y="922" font-size="18">bolts</text></g>
<g id="n-concrete-testing"><circle cx="368" cy="948" r="8" class="cG"/><circle cx="368" cy="948" r="8" fill="url(#sh)"/><text class="t m" x="368" y="948" font-size="17">concrete testing</text></g>
<g id="n-unlabeled-teal-617"><circle cx="617" cy="942" r="8" class="cT"/><circle cx="617" cy="942" r="8" fill="url(#sh)"/></g>
<g id="n-composite-bridges"><circle cx="682" cy="955" r="9" class="cB"/><circle cx="682" cy="955" r="9" fill="url(#sh)"/><text class="t m" x="683" y="955" font-size="17">composite bridges</text></g>
<g id="n-concrete-elements"><circle cx="930" cy="948" r="8" class="cYL"/><circle cx="930" cy="948" r="8" fill="url(#sh)"/><text class="t k" x="931" y="948" font-size="17">concrete elements</text></g>
<g id="n-shear-flow"><circle cx="556" cy="968" r="8" class="cG"/><circle cx="556" cy="968" r="8" fill="url(#sh)"/><text class="t k" x="557" y="968" font-size="17">shear flow</text></g>
<g id="n-thin-walled-structures"><circle cx="1144" cy="962" r="9" class="cLG"/><circle cx="1144" cy="962" r="9" fill="url(#sh)"/><text class="t v" x="1142" y="962" font-size="17">thin-walled structures</text></g>
<g id="n-light-weight-concrete"><circle cx="1058" cy="977" r="9" class="cY"/><circle cx="1058" cy="977" r="9" fill="url(#sh)"/><text class="t k" x="1060" y="976" font-size="18">light weight concrete</text></g>
<g id="n-unlabeled-purple-797"><circle cx="797" cy="981" r="11" class="cP"/><circle cx="797" cy="981" r="11" fill="url(#sh)"/></g>
<g id="n-beams-and-girders"><circle cx="628" cy="1003" r="10" class="cP"/><circle cx="628" cy="1003" r="10" fill="url(#sh)"/><text class="t v" x="625" y="1004" font-size="17">beams and girders</text></g>
<g id="n-concrete-aggregates"><circle cx="993" cy="1013" r="8" class="cLG"/><circle cx="993" cy="1013" r="8" fill="url(#sh)"/><text class="t k" x="995" y="1013" font-size="17">concrete aggregates</text></g>
<g id="n-nuclear-power-plants"><circle cx="386" cy="1040" r="8" class="cB"/><circle cx="386" cy="1040" r="8" fill="url(#sh)"/><text class="t k" x="386" y="1040" font-size="17">nuclear power plants</text></g>
<g id="n-bending-tests"><circle cx="563" cy="1055" r="8" class="cL"/><circle cx="563" cy="1055" r="8" fill="url(#sh)"/><text class="t m" x="563" y="1055" font-size="17">bending tests</text></g>
<g id="n-tensile-strength"><circle cx="670" cy="1054" r="9" class="cT"/><circle cx="670" cy="1054" r="9" fill="url(#sh)"/><text class="t m" x="671" y="1054" font-size="17">tensile strength</text></g>
<g id="n-strain"><circle cx="595" cy="1117" r="8" class="cT"/><circle cx="595" cy="1117" r="8" fill="url(#sh)"/><text class="t k" x="594" y="1117" font-size="17">strain</text></g>
<g id="n-shrinkage"><circle cx="855" cy="1143" r="8" class="cLG"/><circle cx="855" cy="1143" r="8" fill="url(#sh)"/><text class="t k" x="856" y="1143" font-size="17">shrinkage</text></g>

<g id="n-tall-buildings"><circle cx="650" cy="165" r="12" class="cG"/><circle cx="650" cy="165" r="12" fill="url(#sh)"/><text class="t k" x="649" y="165" font-size="19.3">tall buildings</text></g>
<g id="n-housing"><circle cx="1012" cy="180" r="11" class="cTB"/><circle cx="1012" cy="180" r="11" fill="url(#sh)"/><text class="t k" x="1012" y="180" font-size="18">housing</text></g>
<g id="n-building-construction"><circle cx="759" cy="232" r="12" class="cT"/><circle cx="759" cy="232" r="12" fill="url(#sh)"/><text class="t v" x="759" y="232" font-size="17">building construction</text></g>
<g id="n-architectural-design"><circle cx="1066" cy="272" r="13" class="cTB"/><circle cx="1066" cy="272" r="13" fill="url(#sh)"/><text class="t k" x="1066" y="273" font-size="19.3">architectural design</text></g>
<g id="n-life-cycle"><circle cx="1266" cy="309" r="12" class="cG"/><circle cx="1266" cy="309" r="12" fill="url(#sh)"/><text class="t k" x="1265" y="309" font-size="19">life cycle</text></g>
<g id="n-shear-walls"><circle cx="406" cy="358" r="11" class="cL"/><circle cx="406" cy="358" r="11" fill="url(#sh)"/><text class="t k" x="406" y="357" font-size="18.5">shear walls</text></g>
<g id="n-seismology"><circle cx="333" cy="407" r="13" class="cLG"/><circle cx="333" cy="407" r="13" fill="url(#sh)"/><text class="t k" x="333" y="407" font-size="19.3">seismology</text></g>
<g id="n-sustainable-development"><circle cx="1241" cy="405" r="12" class="cG"/><circle cx="1241" cy="405" r="12" fill="url(#sh)"/><text class="t k" x="1241" y="405" font-size="19.4">sustainable development</text></g>
<g id="n-prefabrication"><circle cx="1126" cy="420" r="14" class="cT"/><circle cx="1126" cy="420" r="14" fill="url(#sh)"/><text class="t v" x="1120" y="420" font-size="17">prefabrication</text></g>
<g id="n-steel-structure"><circle cx="553" cy="413" r="10" class="cG"/><circle cx="553" cy="413" r="10" fill="url(#sh)"/><text class="t k" x="554" y="413" font-size="19.3">steel structure</text></g>
<g id="n-floors"><circle cx="709" cy="462" r="12" class="cP"/><circle cx="709" cy="462" r="12" fill="url(#sh)"/><text class="t k" x="709" y="461" font-size="19.4">floors</text></g>
<g id="n-sustainability"><circle cx="1322" cy="502" r="12" class="cG"/><circle cx="1322" cy="502" r="12" fill="url(#sh)"/><text class="t k" x="1323" y="501" font-size="19.5">sustainability</text></g>
<g id="n-energy-dissipation"><circle cx="203" cy="528" r="12" class="cLG"/><circle cx="203" cy="528" r="12" fill="url(#sh)"/><text class="t k" x="202" y="527" font-size="19.3">energy dissipation</text></g>
<g id="n-steel-structures"><circle cx="518" cy="505" r="12" class="cT"/><circle cx="518" cy="505" r="12" fill="url(#sh)"/><text class="t k" x="519" y="503" font-size="19.4">steel structures</text></g>
<g id="n-construction-method"><circle cx="770" cy="518" r="11" class="cLG"/><circle cx="770" cy="518" r="11" fill="url(#sh)"/><text class="t v" x="770" y="519" font-size="17">construction method</text></g>
<g id="n-pre-cast"><circle cx="862" cy="515" r="13" class="cLG"/><circle cx="862" cy="515" r="13" fill="url(#sh)"/><text class="t k" x="862" y="515" font-size="19">pre-cast</text></g>
<g id="n-unlabeled-blue-703"><circle cx="703" cy="557" r="13" class="cB"/><circle cx="703" cy="557" r="13" fill="url(#sh)"/></g>
<g id="n-unlabeled-teal-1040"><circle cx="1040" cy="637" r="13" class="cTB"/><circle cx="1040" cy="637" r="13" fill="url(#sh)"/></g>
<g id="n-concrete-buildings"><circle cx="680" cy="657" r="11" class="cLG"/><circle cx="680" cy="657" r="11" fill="url(#sh)"/><text class="t v" x="680" y="656" font-size="17">concrete buildings</text></g>
<g id="n-unlabeled-green-524"><circle cx="524" cy="709" r="12" class="cG"/><circle cx="524" cy="709" r="12" fill="url(#sh)"/></g>
<g id="n-bearing-capacity"><circle cx="326" cy="848" r="13" class="cY"/><circle cx="326" cy="848" r="13" fill="url(#sh)"/><text class="t k" x="325" y="847" font-size="19.3">bearing capacity</text></g>
<g id="n-compressive-strength"><circle cx="981" cy="912" r="12" class="cG"/><circle cx="981" cy="912" r="12" fill="url(#sh)"/><text class="t k" x="980" y="912" font-size="19.3">compressive strength</text></g>
<g id="n-bridge-decks"><circle cx="726" cy="988" r="12" class="cP"/><circle cx="726" cy="988" r="12" fill="url(#sh)"/><text class="t k" x="726" y="988" font-size="18">bridge decks</text></g>
<g id="n-high-performance-concrete"><circle cx="770" cy="1030" r="12" class="cLG"/><circle cx="770" cy="1030" r="12" fill="url(#sh)"/><text class="t k" x="770" y="1030" font-size="19.3">high performance concrete</text></g>
<g id="n-stiffness"><circle cx="310" cy="676" r="14" class="cG"/><circle cx="310" cy="676" r="14" fill="url(#sh)"/><text class="t k" x="310" y="675" font-size="22">stiffness</text></g>
<g id="n-reinforcement"><circle cx="841" cy="826" r="14" class="cB"/><circle cx="841" cy="826" r="14" fill="url(#sh)"/><text class="t k" x="841" y="825" font-size="19.2">reinforcement</text></g>
<g id="n-modular-buildings"><circle cx="626" cy="238" r="15" class="cLG"/><circle cx="626" cy="238" r="15" fill="url(#sh)"/><text class="t k" x="626" y="234" font-size="22">modular buildings</text></g>
<g id="n-construction"><circle cx="1131" cy="497" r="15" class="cP"/><circle cx="1131" cy="497" r="15" fill="url(#sh)"/><text class="t k" x="1131" y="496" font-size="21.5">construction</text></g>
<g id="n-structural-analysis"><circle cx="632" cy="377" r="16" class="cB"/><circle cx="632" cy="377" r="16" fill="url(#sh)"/><text class="t k" x="633" y="377" font-size="22">structural analysis</text></g>
<g id="n-structural-design"><circle cx="762" cy="332" r="17" class="cP"/><circle cx="762" cy="332" r="17" fill="url(#sh)"/><text class="t k" x="763" y="332" font-size="22">structural design</text></g>
<g id="n-concrete"><circle cx="990" cy="596" r="17" class="cP"/><circle cx="990" cy="596" r="17" fill="url(#sh)"/><text class="t k" x="990" y="595" font-size="21.5">concrete</text></g>
<g id="n-concrete-slabs"><circle cx="693" cy="781" r="17" class="cTB"/><circle cx="693" cy="781" r="17" fill="url(#sh)"/><text class="t k" x="693" y="781" font-size="21.7">concrete slabs</text></g>
<g id="n-finite-element-method"><circle cx="593" cy="748" r="18" class="cT"/><circle cx="593" cy="748" r="18" fill="url(#sh)"/><text class="t m" x="594" y="746" font-size="22">finite element method</text></g>
<g id="n-construction-industry"><circle cx="1075" cy="543" r="20" class="cT"/><circle cx="1075" cy="543" r="20" fill="url(#sh)"/><text class="t k" x="1074" y="541" font-size="22.4">construction industry</text></g>
<g id="n-modulars"><circle cx="656" cy="501" r="25" class="cY"/><circle cx="656" cy="501" r="25" fill="url(#sh)"/><text class="t k" x="656" y="500" font-size="25">modulars</text></g>
<g id="n-concrete-construction"><circle cx="598" cy="633" r="25" class="cP"/><circle cx="598" cy="633" r="25" fill="url(#sh)"/><text class="t m" x="600" y="631" font-size="24.8">concrete construction</text></g>
<g id="n-precast-concrete"><circle cx="822" cy="578" r="27" class="cB"/><circle cx="822" cy="578" r="27" fill="url(#sh)"/><text class="t k" x="822" y="579" font-size="25.4">precast concrete</text></g>
<g id="n-concretes"><circle cx="915" cy="694" r="28" class="cTB"/><circle cx="915" cy="694" r="28" fill="url(#sh)"/><text class="t d" x="914" y="693" font-size="25.2">concretes</text></g>
<g id="n-reinforced-concrete"><circle cx="658" cy="715" r="30" class="cT"/><circle cx="658" cy="715" r="30" fill="url(#sh)"/><text class="t k" x="658" y="715" font-size="27">reinforced concrete</text></g>
<g id="n-modular-construction"><circle cx="855" cy="655" r="37" class="cH"/><circle cx="855" cy="655" r="37" fill="url(#sh)"/><text class="t k" x="858" y="650" font-size="33">modular construction</text></g>
</g>

<g id="legend">
<rect x="1024" y="1090" width="454" height="68" rx="12" fill="#ffffff" stroke="#cfcfcf" stroke-width="1.5"/>
<rect x="1040" y="1102" width="424" height="23" fill="url(#vir)" stroke="#555555" stroke-width="0.8"/>
<g stroke="#555555" stroke-width="1">
<line x1="1060" y1="1117" x2="1060" y2="1133"/>
<line x1="1156" y1="1117" x2="1156" y2="1133"/>
<line x1="1251" y1="1117" x2="1251" y2="1133"/>
<line x1="1347" y1="1117" x2="1347" y2="1133"/>
<line x1="1442" y1="1117" x2="1442" y2="1133"/>
</g>
<g class="t" font-size="16" fill="#555555">
<text x="1060" y="1144">2014</text>
<text x="1156" y="1144">2016</text>
<text x="1251" y="1144">2018</text>
<text x="1347" y="1144">2020</text>
<text x="1442" y="1144">2022</text>
</g>
</g>
</g>
</svg>
